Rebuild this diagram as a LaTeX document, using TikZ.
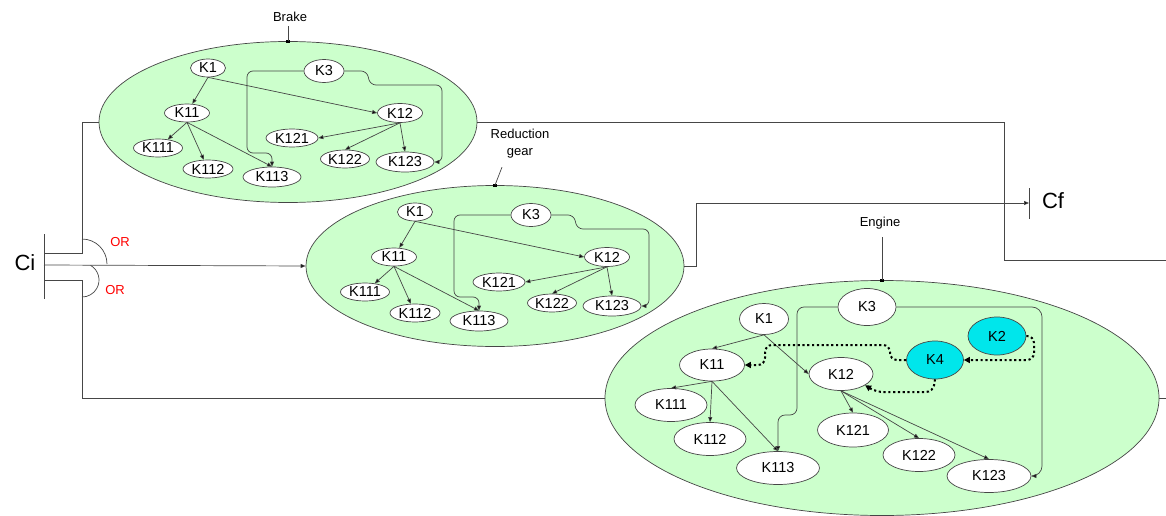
\documentclass[tikz,border=0pt]{standalone}
\usepackage{fontspec}
\setmainfont{Liberation Sans}
\usetikzlibrary{arrows.meta,shapes.geometric}
\definecolor{sysgreen}{RGB}{204,255,204}
\definecolor{faultcyan}{RGB}{0,230,235}
\definecolor{linegray}{RGB}{70,70,70}
\tikzset{%
  >={Triangle[width=4pt,length=5pt,fill=black]},
  % Specifications for style of nodes:
       system/.style = {ellipse, draw=linegray, fill=sysgreen, inner sep=0pt},
         part/.style = {ellipse, draw=linegray, fill=white, text=black, inner sep=0pt,
                        minimum height=18, font=\fontsize{14.5}{14.5}\selectfont},
      bigpart/.style = {part, minimum height=33},
    faultpart/.style = {bigpart, fill=faultcyan, minimum height=38},
      sysname/.style = {text=black, align=center, font=\fontsize{13}{17}\selectfont},
      orlabel/.style = {text=red, font=\fontsize{13}{13}\selectfont},
      bigtext/.style = {text=black, font=\fontsize{22}{22}\selectfont},
        joint/.style = {rectangle, fill=black, inner sep=0pt, minimum width=4, minimum height=3},
    faultlink/.style = {color=black, dash pattern=on 2.2pt off 2.6pt, line width=2,
                        -{Triangle[width=6pt,length=6pt]}}
}

\begin{document}
\begin{tikzpicture}[x=1pt, y=-1pt, line width=0.7, color=linegray]
  \useasboundingbox (0,0) rectangle (1166,516);

  % brake and reduction gear share one layout
  \foreach \p/\dx/\dy in {b/0/0, r/207/144} {
  \begin{scope}[shift={(\dx,\dy)}, name prefix=\p-]
    \node (sys)  [system, minimum width=378, minimum height=161] at (288,122) {};
    \node (k1)   [part, minimum width=35] at (208,68)  {K1};
    \node (k3)   [part, minimum width=40, minimum height=23] at (324,71) {K3};
    \node (k11)  [part, minimum width=45] at (187,113) {K11};
    \node (k12)  [part, minimum width=45, minimum height=19] at (400,113) {K12};
    \node (k111) [part, minimum width=49] at (158,148) {K111};
    \node (k112) [part, minimum width=50] at (208,169) {K112};
    \node (k113) [part, minimum width=58, minimum height=20] at (272,177) {K113};
    \node (k121) [part, minimum width=52] at (292,138) {K121};
    \node (k122) [part, minimum width=49] at (345,159) {K122};
    \node (k123) [part, minimum width=58, minimum height=20] at (405,162) {K123};

    \draw[->] (k1.south) -- (k11);
    \draw[->] (k1.south) -- (k12.west);
    \draw[->] (k11.south) -- (k111);
    \draw[->] (k11.south) -- (k112);
    \draw[->] (k11.south) -- (k113.north);
    \draw[->] (k12.south) -- (k121.east);
    \draw[->] (k12.south) -- (k122.north);
    \draw[->] (k12.south) -- (k123.north);
    \draw[->, rounded corners=6] (k3.west) -- (247,71) -- (247,153) -- (272,153) -- (k113.north);
    \draw[->, rounded corners=6] (k3.east) -- (367,71) -- (370,85) -- (442,85) -- (442,162) -- (k123.east);
  \end{scope}
  }

  % engine
  \begin{scope}[name prefix=e-]
    \node (sys)  [system, minimum width=554, minimum height=235] at (882,398) {};
    \node (k3)   [bigpart, minimum width=58, minimum height=37] at (867,307) {K3};
    \node (k1)   [bigpart, minimum width=49, minimum height=31] at (764,319) {K1};
    \node (k2)   [faultpart, minimum width=58] at (997,336) {K2};
    \node (k4)   [faultpart, minimum width=57] at (935,360) {K4};
    \node (k11)  [bigpart, minimum width=65, minimum height=32] at (712,365) {K11};
    \node (k12)  [bigpart, minimum width=64] at (841,374) {K12};
    \node (k111) [bigpart, minimum width=72] at (671,405) {K111};
    \node (k112) [bigpart, minimum width=72] at (710,439) {K112};
    \node (k113) [bigpart, minimum width=83] at (778,468) {K113};
    \node (k121) [bigpart, minimum width=71, minimum height=34] at (853,430) {K121};
    \node (k122) [bigpart, minimum width=72] at (919,455) {K122};
    \node (k123) [bigpart, minimum width=84] at (989,476) {K123};

    \draw[->] (k1.south) -- (k11.north);
    \draw[->] (k1.south) -- (k12.west);
    \draw[->] (k11.south) -- (k111.north);
    \draw[->] (k11.south) -- (k112.north);
    \draw[->] (k11.south) -- (k113.north);
    \draw[->] (k12.south) -- (k121.north);
    \draw[->] (k12.south) -- (k122.north);
    \draw[->] (k12.south) -- (k123.north);
    \draw[->, rounded corners=7] (k3.west) -- (797,307) -- (797,415) -- (778,415) -- (k113.north);
    \draw[->, rounded corners=10] (k3.east) -- (1042,307) -- (1042,476) -- (k123.east);
    \draw[faultlink, rounded corners=7] (k2.east) -- (1034,336) -- (1034,360) -- (k4.east);
    \draw[faultlink, rounded corners=7] (k4.west) -- (890,360) -- (890,345) -- (765,345) -- (765,365) -- (k11.east);
    \draw[faultlink, rounded corners=7] (k4.south) -- (933,392) -- (876,392) -- (k12.-25);
  \end{scope}

  % system names
  \node (b-name) [sysname] at (290,17) {Brake};
  \node (b-joint) [joint] at (b-sys.north) {};
  \draw (b-sys.north) -- +(0,-15);
  \node (r-name) [sysname] at (520,144) {Reduction\\gear};
  \node (r-joint) [joint] at (r-sys.north) {};
  \draw (r-sys.north) -- +(7,-18);
  \node (e-name) [sysname] at (880,223) {Engine};
  \node (e-joint) [joint] at (e-sys.north) {};
  \draw (e-sys.north) -- +(0,-43);

  % input Ci
  \node (ci) [bigtext] at (25,263) {Ci};
  \coordinate (ci-top) at (44,234);
  \coordinate (ci-bot) at (44,299);
  \coordinate (ci-up)  at (44,253);
  \coordinate (ci-mid) at (44,265);
  \coordinate (ci-low) at (44,280);
  \draw (ci-top) -- (ci-bot);
  \draw (b-sys.west) -| (82,253) -- (ci-up);
  \draw[->] (ci-mid) -- (r-sys.west);
  \draw (e-sys.west) -| (82,280) -- (ci-low);
  \draw (82,239) arc[start angle=-90, end angle=0, radius=25];
  \draw (90.5,265.3) arc[start angle=-60, end angle=90, radius=17];
  \node (or-up)  [orlabel] at (120,242) {OR};
  \node (or-low) [orlabel] at (115,290) {OR};

  % output Cf
  \node (cf) [bigtext] at (1053,201) {Cf};
  \coordinate (cf-top) at (1029,188);
  \coordinate (cf-bot) at (1029,219);
  \coordinate (cf-in)  at (1029,203);
  \draw (cf-top) -- (cf-bot);
  \draw[->] (r-sys.east) -- (696,266) |- (cf-in);
  \coordinate (b-out) at (1166,260);
  \coordinate (e-out) at (1166,398);
  \draw (b-sys.east) -| (1004,260) -- (b-out);
  \draw (e-sys.east) -- (e-out);
\end{tikzpicture}
\end{document}
